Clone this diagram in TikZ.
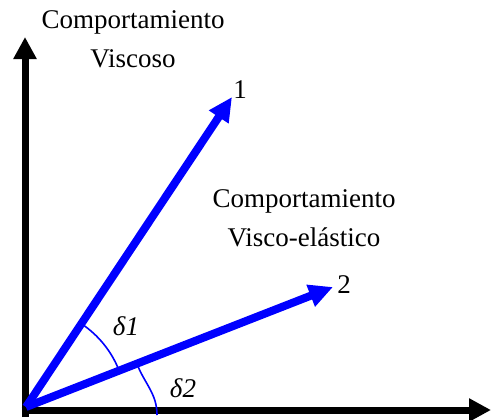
\documentclass[tikz,border=0pt]{standalone}
\usepackage{fontspec}
\setmainfont{Liberation Serif}
\usetikzlibrary{arrows.meta,calc}

\begin{document}
\begin{tikzpicture}[x=0.5pt, y=0.5pt,
  font=\fontsize{13.5}{19.5}\selectfont,
  axis/.style={line width=3.5pt, -{Triangle[length=11pt, width=11pt]}},
  vec/.style={line width=4pt, draw=blue, fill=blue, -{Triangle[length=12pt, width=11pt]}},
  ang/.style={draw=blue, line width=0.8pt},
  lbl/.style={align=center, inner sep=0pt}]
  \useasboundingbox (0,0) rectangle (491,419);
  \coordinate (O) at (26,12);
  \coordinate (ybot) at (25,2);
  \coordinate (ytop) at (25,382);
  \coordinate (xleft) at (21.5,9);
  \coordinate (xright) at (491,9);
  \coordinate (v1) at (232,322);
  \coordinate (v2) at (333,132);
  \coordinate (a1s) at ($(O)+(56.4:100)$);
  \coordinate (a2s) at (137,55);
  \coordinate (a2e) at (157,4);
  \draw[axis] (ybot) -- (ytop);
  \draw[axis] (xleft) -- (xright);
  \draw[vec] (O) -- (v1);
  \draw[vec] (O) -- (v2);
  \draw[ang] (a1s) arc[start angle=56.4, end angle=21.35, radius=100];
  \draw[ang] (a2s) to[out=-68.65, in=90] (a2e);
  \node[lbl] (l1) at (240,329) {1};
  \node[lbl] (l2) at (344,134) {2};
  \node[lbl] (d1) at (126,93) {\textit{δ1}};
  \node[lbl] (d2) at (183,31) {\textit{δ2}};
  \node[lbl] (visc) at (133,380) {Comportamiento\\Viscoso};
  \node[lbl] (velas) at (304,201) {Comportamiento\\Visco-elástico};
\end{tikzpicture}
\end{document}
